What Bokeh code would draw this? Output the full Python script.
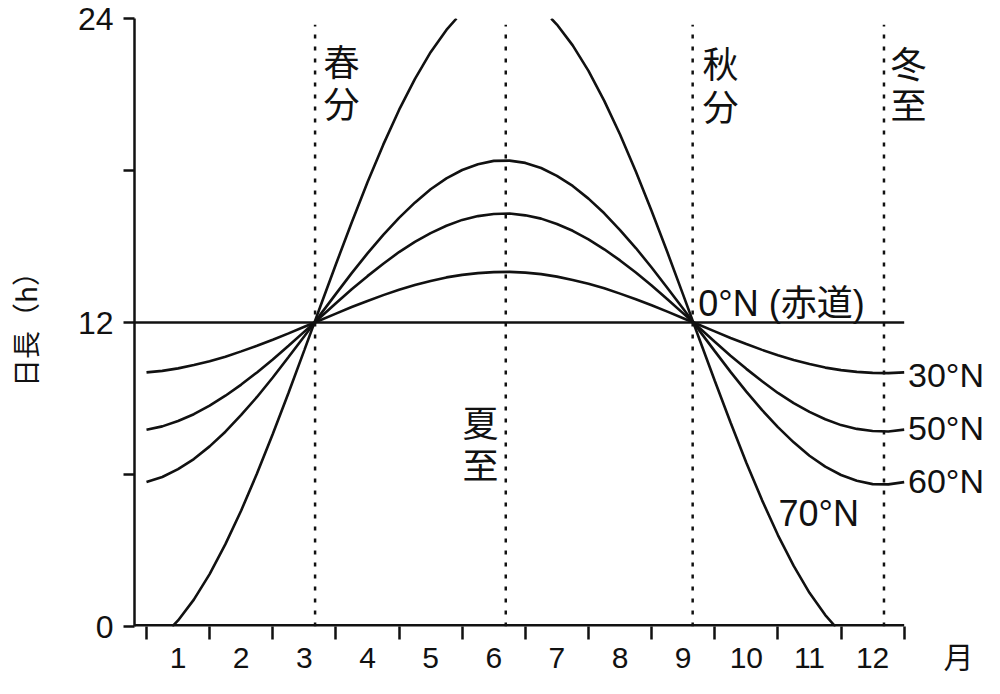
import math
from bokeh.plotting import figure
from bokeh.models import Label, FixedTicker, Range1d
from bokeh.embed import file_html
from bokeh.resources import INLINE

NaN = float("nan")

# ---- data ----
months = [0.5, 0.75, 1.0, 1.25, 1.5, 1.75, 2.0, 2.25, 2.5, 2.75, 3.0, 3.25,
          3.5, 3.75, 4.0, 4.25, 4.5, 4.75, 5.0, 5.25, 5.5, 5.75, 6.0, 6.25,
          6.5, 6.75, 7.0, 7.25, 7.5, 7.75, 8.0, 8.25, 8.5, 8.75, 9.0, 9.25,
          9.5, 9.75, 10.0, 10.25, 10.5, 10.75, 11.0, 11.25, 11.5, 11.75, 12.0,
          12.25, 12.5]

equator_hours = 12.0

lat30 = [10.03, 10.09, 10.19, 10.32, 10.47, 10.65, 10.86, 11.08, 11.32, 11.57,
         11.83, 12.09, 12.35, 12.61, 12.85, 13.08, 13.29, 13.48, 13.64, 13.78,
         13.88, 13.95, 13.99, 14.00, 13.97, 13.91, 13.81, 13.68, 13.53, 13.35,
         13.14, 12.92, 12.68, 12.43, 12.17, 11.91, 11.65, 11.39, 11.15, 10.92,
         10.71, 10.52, 10.36, 10.22, 10.12, 10.05, 10.01, 10.00, 10.03]

lat50 = [7.77, 7.90, 8.11, 8.38, 8.72, 9.11, 9.55, 10.03, 10.54, 11.08,
         11.64, 12.20, 12.76, 13.31, 13.83, 14.32, 14.78, 15.18, 15.53, 15.82,
         16.05, 16.20, 16.28, 16.30, 16.23, 16.10, 15.89, 15.62, 15.28, 14.89,
         14.45, 13.97, 13.46, 12.92, 12.36, 11.80, 11.24, 10.69, 10.17, 9.68,
         9.22, 8.82, 8.47, 8.18, 7.95, 7.80, 7.72, 7.70, 7.77]

lat60 = [5.70, 5.90, 6.21, 6.61, 7.11, 7.69, 8.35, 9.06, 9.83, 10.64,
         11.46, 12.30, 13.13, 13.95, 14.73, 15.46, 16.13, 16.73, 17.26, 17.69,
         18.02, 18.25, 18.38, 18.39, 18.30, 18.10, 17.79, 17.39, 16.89, 16.31,
         15.65, 14.94, 14.17, 13.36, 12.54, 11.70, 10.87, 10.05, 9.27, 8.54,
         7.87, 7.27, 6.74, 6.31, 5.98, 5.75, 5.62, 5.61, 5.70]

months70 = [0.91, 1.0, 1.25, 1.5, 1.75, 2.0, 2.25, 2.5, 2.75, 3.0, 3.25, 3.5,
            3.75, 4.0, 4.25, 4.5, 4.75, 5.0, 5.25, 5.41, NaN,
            6.91, 7.0, 7.25, 7.5, 7.75, 8.0, 8.25, 8.5, 8.75, 9.0, 9.25, 9.5,
            9.75, 10.0, 10.25, 10.5, 10.75, 11.0, 11.25, 11.41]
lat70 = [0.0, 0.24, 1.06, 2.07, 3.25, 4.58, 6.04, 7.60, 9.23, 10.91, 12.61, 14.30,
         15.95, 17.54, 19.02, 20.39, 21.61, 22.67, 23.55, 24.0, NaN,
         24.0, 23.76, 22.94, 21.93, 20.75, 19.42, 17.96, 16.40, 14.77, 13.09, 11.39, 9.70,
         8.05, 6.46, 4.98, 3.61, 2.39, 1.33, 0.45, 0.0]

terms = ["春分", "夏至", "秋分", "冬至"]
term_months = [3.17, 6.19, 9.15, 12.18]

month_ticks = [1, 2, 3, 4, 5, 6, 7, 8, 9, 10, 11, 12]
month_tick_labels = ["1", "2", "3", "4", "5", "6", "7", "8", "9", "10", "11", "12"]
month_edges = [0.5, 1.5, 2.5, 3.5, 4.5, 5.5, 6.5, 7.5, 8.5, 9.5, 10.5, 11.5, 12.5]
x_unit = "月"
hour_ticks = [0, 6, 12, 18, 24]
hour_tick_labels = ["0", "", "12", "", "24"]
y_title = "日長（h）"

curve_names = ["0°N (赤道)", "30°N", "50°N", "60°N", "70°N"]

# ---- layout constants ----
FONT = "Liberation Sans, Noto Sans CJK JP, sans-serif"
CJK = "Noto Sans CJK JP, sans-serif"
INK = "#111111"
X_START, X_AXIS_END = 0.31, 12.5
X_FRAME_END = 13.772      # frame extends to the right edge so side labels fit
UNIT_POS = 13.36          # where the 月 unit sits on the x axis

p = figure(width=984, height=678, output_backend="svg", toolbar_location=None,
           x_range=Range1d(X_START, X_FRAME_END), y_range=Range1d(0, 24),
           min_border_left=134, min_border_right=0, min_border_top=18,
           min_border_bottom=52)
p.outline_line_color = None
p.xgrid.grid_line_color = None
p.ygrid.grid_line_color = None
p.background_fill_color = "white"
p.border_fill_color = "white"

# x axis (line drawn as data segment so it stops at 12.5)
xa = p.xaxis[0]
xa.ticker = FixedTicker(ticks=month_ticks + [UNIT_POS], minor_ticks=month_edges)
overrides = {m: t for m, t in zip(month_ticks, month_tick_labels)}
overrides[UNIT_POS] = x_unit
xa.major_label_overrides = overrides
xa.axis_line_color = None
xa.major_tick_out = 0
xa.major_tick_in = 0
xa.minor_tick_out = 13
xa.minor_tick_in = 0
xa.minor_tick_line_width = 2.5
xa.minor_tick_line_color = INK
xa.major_label_text_font_size = "30px"
xa.major_label_text_font = FONT
xa.major_label_text_color = INK
xa.major_label_standoff = 1

p.segment(x0=[X_START], y0=[0], x1=[X_AXIS_END], y1=[0], line_color=INK, line_width=5)

# y axis
ya = p.yaxis[0]
ya.ticker = FixedTicker(ticks=hour_ticks, minor_ticks=[])
ya.major_label_overrides = {h: t for h, t in zip(hour_ticks, hour_tick_labels)}
ya.axis_line_width = 2.5
ya.axis_line_color = INK
ya.major_tick_out = 11
ya.major_tick_in = 0
ya.major_tick_line_width = 2.5
ya.major_tick_line_color = INK
ya.minor_tick_out = 0
ya.minor_tick_in = 0
ya.major_label_text_font_size = "32px"
ya.major_label_text_font = FONT
ya.major_label_text_color = INK
ya.major_label_standoff = 10
ya.axis_label = y_title
ya.axis_label_text_font = CJK
ya.axis_label_text_font_size = "28px"
ya.axis_label_text_font_style = "normal"
ya.axis_label_text_color = INK
ya.axis_label_standoff = 30

# dotted marker lines
p.segment(x0=term_months, y0=[0] * 4, x1=term_months, y1=[23.75] * 4,
          line_color=INK, line_width=2.5, line_dash="4 8")

# curves
p.line([X_START, X_AXIS_END], [equator_hours, equator_hours], line_color=INK, line_width=2.6)
for ys in (lat30, lat50, lat60):
    p.line(months, ys, line_color=INK, line_width=2.6)
p.line(months70, lat70, line_color=INK, line_width=2.6)


def add_label(x, y, text, size, font=FONT, align="left"):
    p.add_layout(Label(x=x, y=y, text=text, text_font_size=size, text_font=font,
                       text_align=align, text_baseline="middle", text_color=INK))


# term labels (vertical, one character per line)
term_pos = [(3.59, 22.35, 20.69), (5.79, 8.13, 6.47), (9.59, 22.3, 20.6), (12.57, 22.3, 20.65)]
for name, (lx, y1, y2) in zip(terms, term_pos):
    add_label(lx, y1, name[0], "36px", font=CJK, align="center")
    add_label(lx, y2, name[1], "36px", font=CJK, align="center")

# curve labels
curve_pos = [(9.24, 12.75, "36px"), (12.56, 9.92, "34px"), (12.56, 7.83, "34px"),
             (12.56, 5.74, "34px"), (10.51, 4.47, "36px")]
for name, (lx, ly, fs) in zip(curve_names, curve_pos):
    add_label(lx, ly, name, fs)

open("out.html", "w").write(file_html(p, INLINE))
